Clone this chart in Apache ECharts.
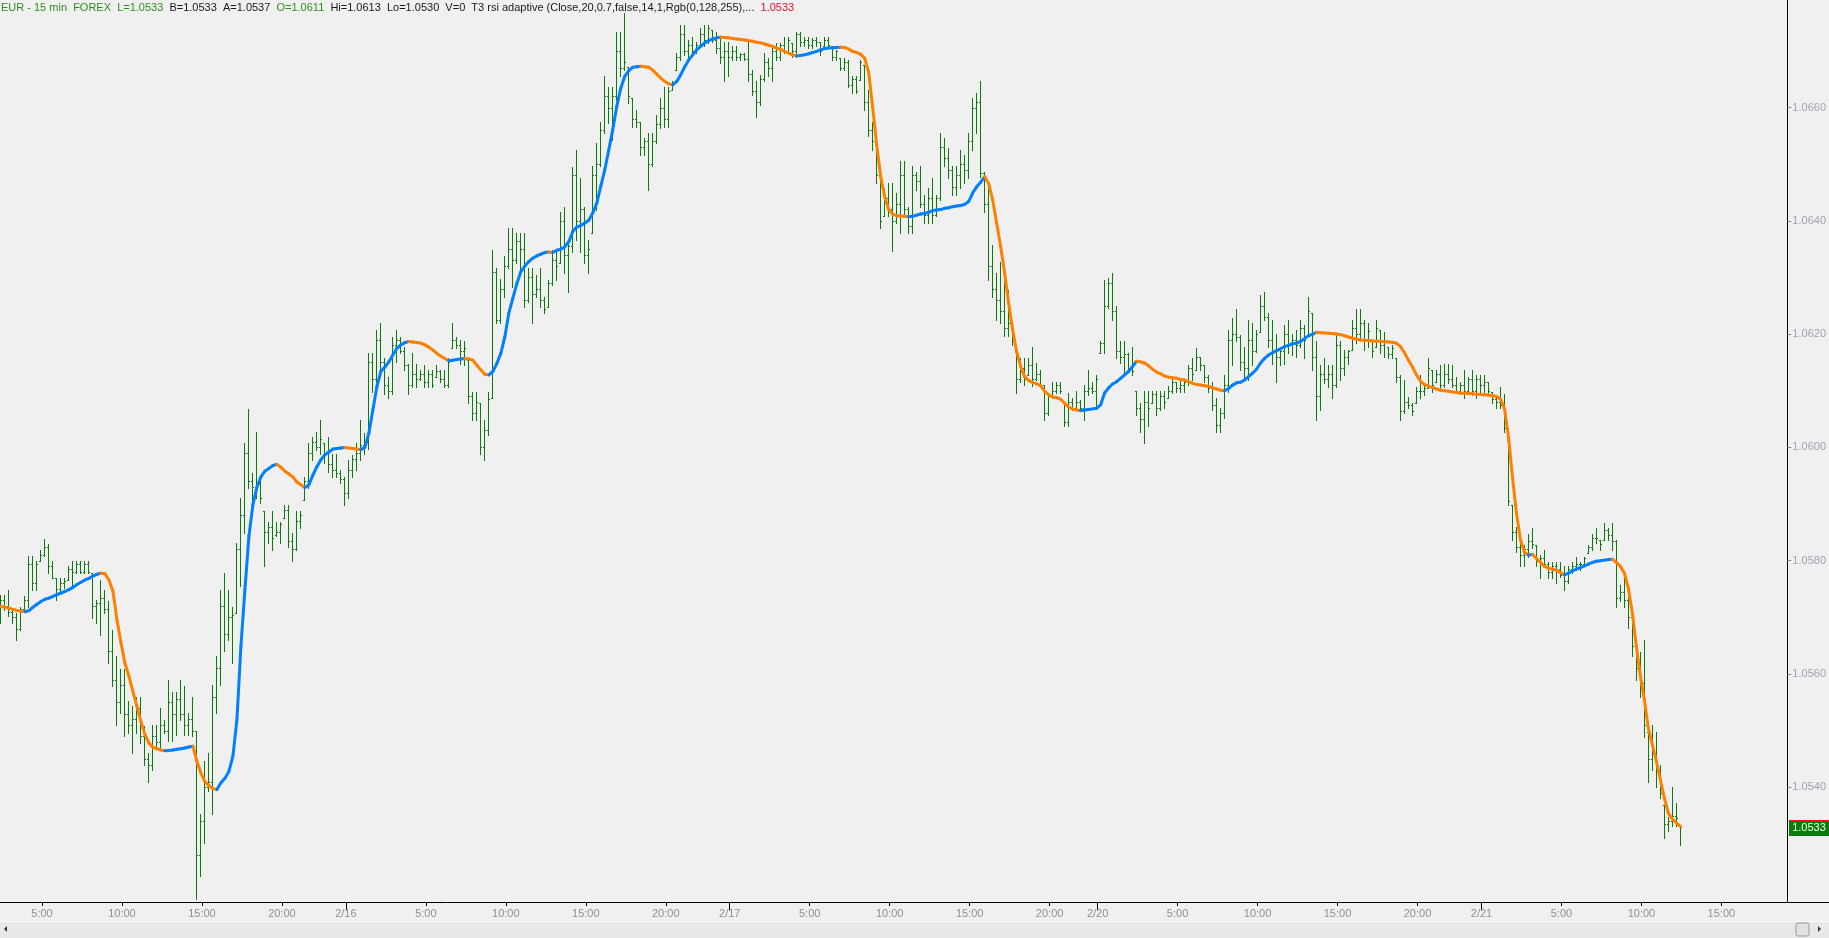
<!DOCTYPE html>
<html>
<head>
<meta charset="utf-8">
<script src="https://cdn.jsdelivr.net/npm/echarts@6/dist/echarts.min.js"></script>
<style>
html,body{margin:0;padding:0;background:#f0f0f0;overflow:hidden;}
#c{width:1829px;height:938px;}
</style>
</head>
<body>
<div id="c"></div>
<script>
// ---- time axis: trading sessions of 15-minute bars (start, number of slots) ----
const sessions = [['2017-02-15 02:30', 254], ['2017-02-19 18:00', 16], ['2017-02-19 23:00', 177]];

// ---- y-axis tick labels ----
const yTicks = [1.054, 1.056, 1.058, 1.060, 1.062, 1.064, 1.066];

// ---- header text ----
const headerParts = [
  ['g', 'EUR - 15 min  FOREX  L=1.0533  '],
  ['k', 'B=1.0533  A=1.0537  '],
  ['g', 'O=1.0611  '],
  ['k', 'Hi=1.0613  Lo=1.0530  V=0  T3 rsi adaptive (Close,20,0.7,false,14,1,Rgb(0,128,255),...  '],
  ['r', '1.0533']
];

// ---- OHLC values (EUR, 15 min) ----
const open = [
1.057,1.0573,1.0572,1.0571,1.057,1.0568,1.05715,1.0573,1.05795,1.0576,
1.058,1.0581,1.05825,1.0579,1.0577,1.0575,1.0576,1.05766,1.05785,1.0578,
1.05795,1.0578,1.05795,1.05778,1.0572,1.05725,1.05735,1.05715,1.0564,1.0559,
1.0555,1.0558,1.0553,1.0551,1.0552,1.0554,1.0549,1.0545,1.0544,1.0549,
1.0548,1.0551,1.055,1.0555,1.0553,1.05555,1.0553,1.0551,1.0552,1.055,
1.0528,1.0534,1.054,1.0541,1.0556,1.0561,1.0572,1.0567,1.057,1.05708,
1.0582,1.0588,1.0599,1.0594,1.0593,1.05935,1.05887,1.0585,1.0586,1.05845,
1.0585,1.05875,1.0589,1.05835,1.0582,1.0587,1.05907,1.0594,1.0599,1.0601,
1.06,1.06007,1.0599,1.0597,1.0596,1.05955,1.05945,1.0592,1.0596,1.0598,
1.0599,1.06005,1.0601,1.0615,1.0612,1.0619,1.0615,1.0611,1.061,1.0618,
1.0619,1.0617,1.06145,1.0611,1.0613,1.0612,1.0613,1.06115,1.0613,1.06125,
1.06135,1.0612,1.0611,1.06175,1.0619,1.0618,1.0617,1.06154,1.0609,1.0606,
1.06078,1.06,1.0603,1.06087,1.0631,1.06225,1.0628,1.0632,1.0635,1.0633,
1.06365,1.0635,1.0626,1.063,1.0627,1.0628,1.0626,1.06248,1.0629,1.0633,
1.06325,1.064,1.0634,1.06355,1.0648,1.064,1.0642,1.0634,1.06378,1.0648,
1.065,1.0656,1.0662,1.066,1.0662,1.067,1.0667,1.06672,1.06616,1.0658,
1.06575,1.0653,1.0654,1.065,1.0654,1.0657,1.066,1.0658,1.06631,1.06666,
1.0669,1.0673,1.067,1.0671,1.067,1.0671,1.0673,1.0672,1.06737,1.0672,
1.06705,1.0669,1.067,1.0669,1.067,1.0669,1.06695,1.06685,1.0666,1.0663,
1.0661,1.0665,1.0668,1.0667,1.067,1.0669,1.0671,1.067,1.06714,1.067,
1.0673,1.06715,1.0672,1.0671,1.0672,1.06715,1.06708,1.0672,1.06708,1.0669,
1.06687,1.0667,1.0668,1.0664,1.0665,1.06649,1.06675,1.0661,1.0656,1.0654,
1.0648,1.06408,1.0644,1.0642,1.064,1.0643,1.0648,1.0642,1.0639,1.0648,
1.0647,1.0643,1.0641,1.0644,1.0641,1.0644,1.0653,1.0651,1.0649,1.0646,
1.0648,1.065,1.0649,1.0654,1.066,1.0661,1.06485,1.0643,1.0632,1.0628,
1.0626,1.0624,1.0621,1.06219,1.06169,1.0612,1.0614,1.06128,1.06145,1.0612,
1.0613,1.0611,1.0606,1.0609,1.061,1.0611,1.06078,1.06045,1.0608,1.0607,
1.0608,1.0607,1.061,1.06105,1.061,1.06166,1.06185,1.0625,1.0629,1.0624,
1.0617,1.0616,1.06165,1.0614,1.06099,1.0607,1.0605,1.0608,1.06078,1.06095,
1.0607,1.0609,1.06087,1.061,1.06115,1.06105,1.0611,1.06115,1.0614,1.06137,
1.0616,1.06145,1.06125,1.06105,1.06075,1.0604,1.0606,1.0611,1.0619,1.062,
1.06195,1.0615,1.0614,1.0619,1.0617,1.06204,1.0625,1.0623,1.0619,1.0617,
1.0616,1.0617,1.062,1.0618,1.0619,1.0618,1.0621,1.06196,1.06237,1.0616,
1.0609,1.0613,1.0612,1.0613,1.0611,1.0618,1.0614,1.0616,1.06172,1.0621,
1.062,1.0622,1.0619,1.0619,1.06178,1.06207,1.0618,1.06178,1.06165,1.06157,
1.06125,1.06065,1.0608,1.06075,1.06078,1.061,1.061,1.06105,1.06137,1.06116,
1.0613,1.0611,1.0613,1.0612,1.0611,1.061,1.0611,1.061,1.0612,1.061,
1.0612,1.0611,1.06115,1.06098,1.06085,1.0608,1.06075,1.06013,1.05898,1.0585,
1.05825,1.0581,1.0582,1.05835,1.05828,1.058,1.05805,1.05795,1.0578,1.0579,
1.05785,1.05775,1.05765,1.05785,1.0579,1.05795,1.05795,1.05813,1.05825,1.0584,
1.05837,1.05837,1.05855,1.05845,1.05835,1.05735,1.05745,1.0573,1.057,1.0565,
1.0561,1.05585,1.05498,1.0545,1.0546,1.0543,1.05369,1.05335,1.0534,1.0535,
1.05334
];
const high = [
1.0574,1.0574,1.05749,1.05713,1.05708,1.05719,1.05737,1.05808,1.05808,1.05799,
1.05819,1.05838,1.0583,1.05799,1.05769,1.05769,1.05769,1.0579,1.05799,1.05799,
1.05799,1.05799,1.05799,1.05778,1.05731,1.05766,1.05749,1.05728,1.05678,1.05631,
1.05608,1.05608,1.05552,1.05543,1.0556,1.0556,1.05508,1.0546,1.0551,1.0551,
1.0554,1.05519,1.0559,1.05569,1.05569,1.0559,1.05578,1.05531,1.0556,1.055,
1.05352,1.05446,1.0546,1.05581,1.05631,1.05749,1.05778,1.05749,1.05719,1.05831,
1.0591,1.06008,1.06068,1.05955,1.06027,1.05949,1.05887,1.05869,1.05887,1.05869,
1.05869,1.05899,1.05899,1.05849,1.05887,1.05887,1.05948,1.06007,1.06019,1.06028,
1.06048,1.06007,1.06019,1.05989,1.05989,1.0596,1.05948,1.05978,1.05987,1.06007,
1.06048,1.06025,1.06166,1.06166,1.06207,1.06219,1.06157,1.06125,1.06195,1.06207,
1.06195,1.06178,1.06148,1.06166,1.06148,1.06137,1.06145,1.06137,1.06137,1.06145,
1.06137,1.06137,1.06157,1.06219,1.06195,1.06189,1.06187,1.06154,1.06098,1.06098,
1.06078,1.06048,1.06098,1.06348,1.06316,1.06298,1.06337,1.06387,1.06387,1.06378,
1.06378,1.06378,1.06316,1.06316,1.06304,1.06316,1.06266,1.06295,1.06348,1.06345,
1.06416,1.06425,1.06366,1.06495,1.06525,1.06475,1.06425,1.06366,1.06496,1.06537,
1.06575,1.06655,1.06637,1.06637,1.06734,1.06734,1.06766,1.06672,1.06616,1.06596,
1.06575,1.06546,1.06555,1.06555,1.06587,1.06616,1.06637,1.06637,1.06646,1.06696,
1.06746,1.06746,1.06719,1.06725,1.06716,1.0674,1.06746,1.06746,1.06737,1.06734,
1.06725,1.06716,1.06716,1.06708,1.06708,1.06696,1.06696,1.06716,1.06666,1.06646,
1.06658,1.06696,1.06687,1.06708,1.06714,1.06714,1.06725,1.06725,1.06714,1.06734,
1.06734,1.06725,1.06725,1.06722,1.06725,1.06716,1.06725,1.06725,1.06708,1.06702,
1.06687,1.06687,1.06684,1.06655,1.06655,1.06684,1.06675,1.06631,1.06575,1.06546,
1.06487,1.06458,1.06466,1.06466,1.06449,1.06505,1.06505,1.06425,1.06496,1.06487,
1.06496,1.06446,1.06458,1.06475,1.06446,1.06555,1.06546,1.06528,1.06496,1.06496,
1.06525,1.06516,1.06555,1.06616,1.06625,1.06646,1.06487,1.06466,1.06358,1.06308,
1.06328,1.06293,1.06278,1.06219,1.06169,1.06158,1.06158,1.06158,1.06178,1.06149,
1.06137,1.0611,1.06096,1.06116,1.06116,1.06116,1.06078,1.06096,1.06087,1.06099,
1.06084,1.0611,1.06137,1.06116,1.06128,1.06187,1.06296,1.06299,1.06308,1.06249,
1.06187,1.06187,1.06166,1.06178,1.06099,1.06078,1.06099,1.06099,1.06099,1.06099,
1.06099,1.06099,1.06108,1.06125,1.06116,1.06119,1.06119,1.06146,1.06157,1.06175,
1.0616,1.06146,1.06128,1.06116,1.06087,1.06069,1.06128,1.06207,1.06228,1.06245,
1.06198,1.06178,1.06225,1.06219,1.06207,1.06269,1.06275,1.06237,1.06225,1.06201,
1.06175,1.06216,1.06225,1.06201,1.06207,1.06225,1.06216,1.06266,1.06237,1.06187,
1.06146,1.06157,1.06146,1.06146,1.06198,1.06187,1.06172,1.06172,1.06225,1.06245,
1.06245,1.06225,1.06219,1.0619,1.06225,1.06207,1.06204,1.06178,1.06181,1.06157,
1.06128,1.06119,1.06089,1.06078,1.06107,1.06128,1.0611,1.06157,1.06137,1.06137,
1.06146,1.06148,1.06148,1.06146,1.06125,1.06116,1.06137,1.06125,1.06137,1.06128,
1.06128,1.06128,1.06116,1.06098,1.0609,1.06107,1.06095,1.06013,1.05898,1.0586,
1.05831,1.05828,1.05848,1.05857,1.05828,1.0581,1.05819,1.05798,1.05798,1.05798,
1.05798,1.0579,1.0579,1.05798,1.05807,1.05798,1.05807,1.05828,1.05848,1.05857,
1.05837,1.05866,1.05857,1.05866,1.05837,1.05757,1.05778,1.05757,1.05719,1.0566,
1.05639,1.0566,1.05498,1.0551,1.05498,1.05439,1.05369,1.05348,1.05401,1.05372,
1.05334
];
const low = [
1.0569,1.05713,1.05702,1.0569,1.0566,1.05678,1.05713,1.05719,1.05749,1.05749,
1.05799,1.05808,1.05778,1.05769,1.05731,1.05743,1.05752,1.05766,1.05755,1.05778,
1.05778,1.05778,1.05778,1.05699,1.0569,1.05669,1.05708,1.05619,1.05578,1.0551,
1.05531,1.0549,1.05496,1.0546,1.05496,1.05478,1.0544,1.0541,1.05431,1.05472,
1.05472,1.05496,1.05481,1.05481,1.05493,1.05519,1.05493,1.05493,1.0549,1.05202,
1.05243,1.05302,1.05393,1.05352,1.05531,1.05581,1.0564,1.0566,1.05619,1.05708,
1.05755,1.05849,1.05928,1.05908,1.0591,1.05902,1.0579,1.05831,1.05819,1.05843,
1.05831,1.05875,1.05825,1.05799,1.05819,1.05857,1.05907,1.05928,1.05978,1.05995,
1.05989,1.05972,1.05957,1.05948,1.05948,1.05937,1.05898,1.0591,1.05948,1.0596,
1.05978,1.05989,1.05998,1.06098,1.06116,1.06131,1.06095,1.06087,1.06095,1.06151,
1.06166,1.06137,1.06095,1.06107,1.06107,1.06119,1.06107,1.06107,1.06107,1.06125,
1.06116,1.06107,1.06107,1.06175,1.06175,1.06148,1.06145,1.06078,1.06048,1.06048,
1.05989,1.05978,1.06022,1.06087,1.06219,1.06219,1.06266,1.06316,1.06284,1.06325,
1.06313,1.06248,1.06257,1.06219,1.06266,1.06248,1.06237,1.06248,1.06287,1.06295,
1.06325,1.06307,1.06275,1.06345,1.06366,1.06345,1.06325,1.06307,1.06378,1.06419,
1.06496,1.06555,1.06572,1.06543,1.06614,1.06655,1.06666,1.06608,1.06566,1.06566,
1.06516,1.06516,1.06455,1.06496,1.06537,1.06564,1.06566,1.06566,1.06631,1.06666,
1.06684,1.06693,1.0669,1.06696,1.06696,1.06708,1.06708,1.06714,1.06716,1.06696,
1.06678,1.06646,1.06655,1.06684,1.06684,1.06684,1.06684,1.06646,1.06622,1.06584,
1.06605,1.06646,1.06655,1.06646,1.06684,1.06684,1.06696,1.06696,1.0669,1.0669,
1.06708,1.06708,1.06705,1.06705,1.06708,1.06693,1.06708,1.06708,1.06684,1.06684,
1.06666,1.06666,1.06637,1.06625,1.06625,1.06649,1.06596,1.06549,1.06525,1.06466,
1.06387,1.06408,1.06408,1.06346,1.06396,1.06378,1.06408,1.06378,1.06378,1.06455,
1.06425,1.06396,1.06396,1.06396,1.06408,1.06437,1.06496,1.06475,1.06446,1.06446,
1.06458,1.06466,1.06475,1.06525,1.06555,1.06478,1.06416,1.06296,1.06266,1.06225,
1.06219,1.06196,1.06196,1.06181,1.06096,1.06116,1.0611,1.06128,1.06108,1.06119,
1.06108,1.06049,1.06058,1.06087,1.06096,1.06096,1.06037,1.06037,1.06066,1.06066,
1.06066,1.06049,1.06093,1.06096,1.06069,1.06166,1.06166,1.06246,1.06225,1.06158,
1.06149,1.06128,1.06137,1.06128,1.06058,1.06028,1.06008,1.06037,1.06078,1.06058,
1.06066,1.06069,1.06087,1.06096,1.06098,1.06098,1.06098,1.0611,1.06119,1.06137,
1.06137,1.06116,1.06098,1.06066,1.06028,1.06028,1.06052,1.06098,1.06146,1.06187,
1.06137,1.06119,1.06119,1.06146,1.06169,1.06204,1.06225,1.06178,1.06148,1.06116,
1.06146,1.06148,1.06166,1.06163,1.0616,1.06178,1.06157,1.06196,1.06137,1.06048,
1.06066,1.06113,1.06107,1.06087,1.06107,1.06119,1.06128,1.06148,1.06172,1.06184,
1.06193,1.06172,1.06178,1.0616,1.06178,1.06166,1.0616,1.06157,1.06157,1.06116,
1.06048,1.0606,1.06069,1.06057,1.06078,1.06087,1.06093,1.06104,1.06098,1.06116,
1.06101,1.06107,1.06113,1.06107,1.06096,1.06095,1.06087,1.06095,1.06093,1.06087,
1.06098,1.06095,1.06093,1.06078,1.06069,1.06069,1.06028,1.05898,1.05837,1.05816,
1.0579,1.0579,1.05807,1.05822,1.0579,1.05769,1.0579,1.05769,1.05769,1.0576,
1.05772,1.05748,1.0576,1.05778,1.05784,1.05784,1.05795,1.05813,1.05819,1.05831,
1.05819,1.05837,1.05837,1.05819,1.05719,1.05728,1.05719,1.05681,1.05631,1.0559,
1.0556,1.05489,1.0541,1.05431,1.05401,1.05381,1.0531,1.05322,1.05331,1.05331,
1.05298
];
const close = [
1.0573,1.0572,1.0571,1.057,1.0568,1.05715,1.0573,1.05795,1.0576,1.05795,
1.0581,1.05825,1.0579,1.0577,1.0575,1.0576,1.05765,1.05785,1.0578,1.05795,
1.0578,1.05795,1.0578,1.0572,1.05725,1.05735,1.05715,1.0564,1.0559,1.0555,
1.0558,1.0553,1.0551,1.0552,1.0554,1.0549,1.0545,1.0544,1.0549,1.0548,
1.0551,1.055,1.0555,1.0553,1.05555,1.0553,1.0551,1.0552,1.055,1.0528,
1.0534,1.054,1.0541,1.0556,1.0561,1.0572,1.0567,1.057,1.05705,1.0582,
1.0588,1.0599,1.0594,1.0593,1.05935,1.0591,1.0585,1.0586,1.0584,1.0585,
1.05865,1.0589,1.05835,1.0582,1.0587,1.0588,1.0594,1.0599,1.0601,1.06,
1.06015,1.0599,1.0597,1.0596,1.05955,1.05945,1.0592,1.0596,1.0598,1.0599,
1.06005,1.0601,1.0615,1.0612,1.0619,1.0615,1.0611,1.061,1.0618,1.0619,
1.0617,1.06145,1.0611,1.0613,1.0612,1.0613,1.06115,1.0613,1.0611,1.06135,
1.0612,1.0611,1.0615,1.0619,1.0618,1.0617,1.06175,1.0609,1.0606,1.0608,
1.06,1.0603,1.06085,1.0631,1.06225,1.0628,1.0632,1.0635,1.0633,1.06365,
1.0635,1.0626,1.063,1.0627,1.0628,1.0626,1.06245,1.0629,1.0633,1.0632,
1.064,1.0634,1.06355,1.0648,1.064,1.0642,1.0634,1.0635,1.0648,1.065,
1.0656,1.0662,1.066,1.0662,1.067,1.0667,1.0668,1.0662,1.0658,1.06575,
1.0653,1.0654,1.065,1.0654,1.0657,1.066,1.0658,1.0663,1.0664,1.0669,
1.0673,1.067,1.0671,1.067,1.0671,1.0673,1.0672,1.0674,1.0672,1.06705,
1.0669,1.067,1.0669,1.067,1.0669,1.06695,1.06685,1.0666,1.0663,1.0661,
1.0665,1.0668,1.0667,1.067,1.0669,1.0671,1.067,1.0672,1.067,1.0673,
1.06715,1.0672,1.0671,1.0672,1.06715,1.067,1.0672,1.0671,1.0669,1.067,
1.0667,1.0668,1.0664,1.0665,1.0663,1.0668,1.0661,1.0656,1.0654,1.0648,
1.064,1.0644,1.0642,1.064,1.0643,1.0648,1.0642,1.0639,1.0648,1.0647,
1.0643,1.0641,1.0644,1.0641,1.0644,1.0653,1.0651,1.0649,1.0646,1.0648,
1.065,1.0649,1.0654,1.066,1.0661,1.06485,1.0643,1.0632,1.0628,1.0626,
1.0624,1.0621,1.0622,1.0619,1.0612,1.0614,1.0612,1.06145,1.0612,1.0613,
1.0611,1.0606,1.0609,1.061,1.0611,1.061,1.06045,1.0608,1.0607,1.0608,
1.0607,1.061,1.06105,1.061,1.0612,1.06185,1.0625,1.0629,1.0624,1.0617,
1.0616,1.06165,1.0614,1.06135,1.0607,1.0605,1.0608,1.0607,1.06095,1.0607,
1.0609,1.0608,1.061,1.06115,1.06105,1.0611,1.06115,1.0614,1.0613,1.0616,
1.06145,1.06125,1.06105,1.06075,1.0604,1.0606,1.0611,1.0619,1.062,1.06195,
1.0615,1.0614,1.0619,1.0617,1.062,1.0625,1.0623,1.0619,1.0617,1.0616,
1.0617,1.062,1.0618,1.0619,1.0618,1.0621,1.0619,1.0624,1.0616,1.0609,
1.0613,1.0612,1.0613,1.0611,1.0618,1.0614,1.0616,1.0617,1.0621,1.062,
1.0622,1.0619,1.06205,1.0617,1.0621,1.0618,1.0619,1.06165,1.06175,1.06125,
1.06065,1.0608,1.06075,1.06065,1.061,1.061,1.06105,1.0614,1.0611,1.0613,
1.0611,1.0613,1.0612,1.0611,1.061,1.0611,1.061,1.0612,1.061,1.0612,
1.0611,1.06115,1.061,1.06085,1.0608,1.06075,1.06035,1.05905,1.0585,1.05825,
1.0581,1.0582,1.05835,1.0583,1.058,1.05805,1.05795,1.0578,1.0579,1.05785,
1.05775,1.05765,1.05785,1.0579,1.05795,1.05795,1.05805,1.05825,1.0584,1.0584,
1.0583,1.05855,1.05845,1.05835,1.05735,1.05745,1.0573,1.057,1.0565,1.0561,
1.05585,1.0551,1.0545,1.0546,1.0543,1.0539,1.05335,1.0534,1.0535,1.05345,
1.0533
];
// ---- T3 rsi adaptive values ----
const t3 = [
1.05719,1.05718,1.05716,1.05714,1.05712,1.05711,1.0571,1.05712,1.05718,1.05723,
1.05728,1.05732,1.05734,1.05737,1.0574,1.05743,1.05746,1.05749,1.05753,1.05758,
1.05762,1.05766,1.05769,1.05773,1.05776,1.05778,1.05777,1.05766,1.05746,1.05696,
1.05655,1.05619,1.05596,1.05569,1.05543,1.05516,1.05493,1.05478,1.05471,1.05468,
1.05466,1.054645,1.05465,1.05466,1.05467,1.05468,1.054695,1.05471,1.054725,1.05446,
1.05425,1.0541,1.05403,1.05398,1.05396,1.05408,1.05416,1.05428,1.05455,1.05519,
1.05649,1.05749,1.05843,1.05899,1.0593,1.05948,1.05958,1.05963,1.05968,1.0597,
1.05965,1.05958,1.05953,1.05948,1.05939,1.05934,1.05929,1.05934,1.05951,1.05966,
1.05978,1.05987,1.05992,1.05997,1.05998,1.05999,1.06,1.05999,1.05998,1.05997,
1.05996,1.06,1.06025,1.06066,1.06107,1.06134,1.06142,1.06151,1.06163,1.06175,
1.06181,1.06185,1.06187,1.06186,1.06185,1.06184,1.06181,1.06177,1.06172,1.06166,
1.06161,1.06157,1.06153,1.06154,1.06155,1.06156,1.06157,1.06156,1.06154,1.06145,
1.06137,1.06129,1.06128,1.06134,1.06148,1.06166,1.06195,1.06237,1.06263,1.06289,
1.0631,1.0632,1.06328,1.06334,1.06338,1.06341,1.06344,1.06345,1.06344,1.06348,
1.0635,1.06354,1.06363,1.06381,1.06389,1.06392,1.06396,1.06401,1.06414,1.06431,
1.06461,1.0649,1.06525,1.06561,1.06602,1.06634,1.06655,1.06665,1.06671,1.06672,
1.06673,1.06672,1.06671,1.06666,1.06659,1.06652,1.06646,1.06642,1.0664,1.06646,
1.06658,1.06672,1.06684,1.06693,1.06702,1.06708,1.06714,1.06718,1.06721,1.06723,
1.06724,1.067235,1.06723,1.06722,1.06721,1.0672,1.06719,1.06718,1.06717,1.06715,
1.06714,1.06712,1.0671,1.06708,1.06705,1.06702,1.06699,1.06696,1.06693,1.06691,
1.06692,1.06693,1.06695,1.06697,1.06699,1.06702,1.06704,1.06705,1.067055,1.06706,
1.067065,1.06706,1.06703,1.06699,1.06697,1.06694,1.06687,1.06662,1.066,1.06534,
1.06478,1.06443,1.0642,1.06412,1.06409,1.064085,1.06408,1.06407,1.06408,1.0641,
1.06412,1.06413,1.06415,1.06418,1.06419,1.0642,1.06422,1.06423,1.06425,1.06426,
1.06427,1.06429,1.06434,1.06449,1.0646,1.06468,1.06478,1.06466,1.06437,1.06396,
1.06355,1.06308,1.06255,1.06208,1.06169,1.06143,1.06125,1.06118,1.06115,1.06112,
1.06109,1.06099,1.06093,1.06089,1.06088,1.06085,1.06078,1.06071,1.06068,1.06066,
1.06065,1.06066,1.06067,1.06068,1.06069,1.06075,1.06096,1.06105,1.06112,1.06116,
1.06122,1.06128,1.06134,1.06143,1.06152,1.06151,1.06149,1.06144,1.06138,1.06133,
1.0613,1.06126,1.06124,1.06123,1.06122,1.0612,1.06119,1.06116,1.06113,1.06111,
1.0611,1.06109,1.06108,1.06105,1.06103,1.06101,1.061,1.06104,1.0611,1.06114,
1.06115,1.06119,1.06125,1.06131,1.06138,1.06149,1.06157,1.06163,1.06167,1.06171,
1.06174,1.06178,1.0618,1.06183,1.06184,1.06187,1.06192,1.06197,1.062,1.06203,
1.062025,1.06202,1.062015,1.06201,1.062,1.06199,1.06197,1.06195,1.06193,1.06191,
1.061895,1.06189,1.061885,1.06188,1.061875,1.06187,1.061865,1.06186,1.061855,1.06184,
1.06178,1.06167,1.06154,1.06142,1.06128,1.06117,1.06111,1.06108,1.06106,1.06103,
1.06101,1.061,1.06099,1.06098,1.06097,1.06096,1.060955,1.06095,1.060945,1.06094,
1.060935,1.06093,1.060925,1.06091,1.0609,1.06085,1.06069,1.06019,1.05948,1.05884,
1.05837,1.05815,1.0581,1.05811,1.05804,1.05797,1.0579,1.05787,1.05785,1.05783,
1.05779,1.05775,1.05778,1.05782,1.05785,1.05788,1.05791,1.05794,1.05797,1.05799,
1.058,1.05801,1.05802,1.058025,1.05797,1.0579,1.05778,1.05751,1.05707,1.05648,
1.05596,1.05554,1.05504,1.05475,1.05446,1.05413,1.05381,1.05354,1.05344,1.05337,
1.05331
];

// ---------------- styles / layout ----------------
const BAR_COLOR = '#0d7a0d';
const UP_COLOR = '#0080ff';
const DOWN_COLOR = '#ff8000';
const FONT = '"Liberation Sans", Arial, sans-serif';
const Y_MIN = 1.0519754, Y_MAX = 1.0678977;

// build category axis from sessions
const times = [];
sessions.forEach(([s, n]) => {
  const [d, t] = s.split(' ');
  const [Y, M, D] = d.split('-').map(Number);
  const [h, mi] = t.split(':').map(Number);
  const t0 = Date.UTC(Y, M - 1, D, h, mi);
  for (let k = 0; k < n; k++) times.push(t0 + k * 900000);
});
const categories = times.map(t => {
  const d = new Date(t);
  return (d.getUTCMonth() + 1) + '/' + d.getUTCDate() + ' ' + d.getUTCHours() + ':' + String(d.getUTCMinutes()).padStart(2, '0');
});
function tickLabel(i) {
  const d = new Date(times[i]);
  const h = d.getUTCHours(), m = d.getUTCMinutes();
  if (m !== 0 || h % 5 !== 0) return '';
  return h === 0 ? (d.getUTCMonth() + 1) + '/' + d.getUTCDate() : h + ':00';
}
function isDateTick(i) {
  const d = new Date(times[i]);
  return d.getUTCHours() === 0 && d.getUTCMinutes() === 0;
}

const barData = open.map((o, i) => [i, o, high[i], low[i], close[i]]);
const segData = [];
let dir = 1;
for (let i = 1; i < t3.length; i++) {
  if (t3[i] > t3[i - 1]) dir = 1; else if (t3[i] < t3[i - 1]) dir = -1;
  segData.push([i, t3[i - 1], t3[i], dir]);
}

const chart = echarts.init(document.getElementById('c'), null, {renderer: 'canvas'});

const headerText = headerParts.map(p => '{' + p[0] + '|' + p[1] + '}').join('');

chart.setOption({
  animation: false,
  backgroundColor: '#f0f0f0',
  grid: {left: 0, right: 41, top: 0, bottom: 36, containLabel: false},
  xAxis: [{
    type: 'category', data: categories, boundaryGap: true, position: 'bottom',
    axisLine: {show: true, onZero: false, lineStyle: {color: '#000', width: 1}},
    axisTick: {show: true, alignWithLabel: true, length: 4, interval: (i) => tickLabel(i) !== '', lineStyle: {color: '#000'}},
    axisLabel: {show: true, interval: (i) => tickLabel(i) !== '', formatter: (v, i) => tickLabel(i),
      color: '#8f8f8f', fontSize: 11, fontFamily: FONT, margin: 6},
    splitLine: {show: false}
  }, {
    type: 'category', data: categories, boundaryGap: true, position: 'top', offset: -902,
    axisLine: {show: false},
    axisTick: {show: true, inside: true, alignWithLabel: true, length: 8, interval: (i) => isDateTick(i), lineStyle: {color: '#000'}},
    axisLabel: {show: false},
    splitLine: {show: false}
  }],
  yAxis: {
    type: 'value', position: 'right', min: Y_MIN, max: Y_MAX, scale: true,
    splitLine: {show: false},
    axisLine: {show: true, onZero: false, lineStyle: {color: '#000', width: 1}},
    axisTick: {show: true, length: 4, customValues: yTicks, lineStyle: {color: '#8a8a8a'}},
    axisLabel: {show: true, customValues: yTicks, formatter: v => v.toFixed(4), color: '#a4a0b4',
      fontSize: 11, fontFamily: FONT, margin: 5}
  },
  series: [{
    type: 'custom', name: 'EUR', xAxisIndex: 0, yAxisIndex: 0, data: barData,
    encode: {x: 0, y: [1, 2, 3, 4]}, clip: true, silent: true,
    renderItem: (params, api) => {
      const i = api.value(0);
      const ph = api.coord([i, api.value(2)]);
      const pl = api.coord([i, api.value(3)]);
      const po = api.coord([i, api.value(1)]);
      const pc = api.coord([i, api.value(4)]);
      const x = Math.floor(ph[0]) - 1;
      const yt = Math.round(ph[1]), yb = Math.round(pl[1]);
      return {type: 'group', children: [
        {type: 'rect', shape: {x: x, y: yt, width: 1, height: Math.max(1, yb - yt + 1)}, style: {fill: BAR_COLOR}},
        {type: 'rect', shape: {x: x - 1, y: Math.round(po[1]), width: 1, height: 1}, style: {fill: BAR_COLOR}},
        {type: 'rect', shape: {x: x + 1, y: Math.round(pc[1]), width: 1, height: 1}, style: {fill: BAR_COLOR}}
      ]};
    },
    z: 2
  }, {
    type: 'custom', name: 'T3 rsi adaptive', xAxisIndex: 0, yAxisIndex: 0, data: segData,
    encode: {x: 0, y: [1, 2]}, clip: true, silent: true,
    renderItem: (params, api) => {
      const i = api.value(0);
      const p0 = api.coord([i - 1, api.value(1)]);
      const p1 = api.coord([i, api.value(2)]);
      return {type: 'line', shape: {x1: p0[0] - 1, y1: p0[1], x2: p1[0] - 1, y2: p1[1]},
        style: {stroke: api.value(3) > 0 ? UP_COLOR : DOWN_COLOR, lineWidth: 3, lineCap: 'round'}};
    },
    z: 3
  }]
});

// last price marker, scrollbar & header
const lastClose = close[close.length - 1];
const py = chart.convertToPixel({yAxisIndex: 0}, lastClose);
chart.setOption({
  graphic: [
    {type: 'text', left: 1, top: 2, z: 10, style: {text: headerText, font: '11px ' + FONT,
      rich: {g: {fill: '#2e8f1e', font: '11px ' + FONT}, k: {fill: '#1a1a1a', font: '11px ' + FONT}, r: {fill: '#e8112d', font: '11px ' + FONT}}}},
    {type: 'rect', z: 10, shape: {x: 1789, y: Math.round(py) - 7, width: 40, height: 16}, style: {fill: '#0a7d0a'}},
    {type: 'rect', z: 11, shape: {x: 1789, y: Math.round(py) - 7, width: 40, height: 1}, style: {fill: '#ff1010'}},
    {type: 'text', z: 12, x: 1809, y: Math.round(py) + 1, style: {text: lastClose.toFixed(4), fill: '#f0fff0',
      font: '11px ' + FONT, align: 'center', verticalAlign: 'middle'}},
    {type: 'line', z: 5, shape: {x1: 1788, y1: 902.5, x2: 1829, y2: 902.5}, style: {stroke: '#000', lineWidth: 1}},
    {type: 'rect', z: 5, shape: {x: 0, y: 922, width: 1829, height: 16}, style: {fill: '#e8e8e8'}},
    {type: 'line', z: 6, shape: {x1: 0, y1: 921.5, x2: 1829, y2: 921.5}, style: {stroke: '#fafafa', lineWidth: 1}},
    {type: 'polygon', z: 6, shape: {points: [[7, 926], [4, 929], [7, 932]]}, style: {fill: '#333'}},
    {type: 'rect', z: 6, shape: {x: 1796, y: 923, width: 13, height: 13, r: 2}, style: {fill: '#e2e2e2', stroke: '#9a9a9a', lineWidth: 1}},
    {type: 'polygon', z: 6, shape: {points: [[1818, 926], [1821, 929], [1818, 932]]}, style: {fill: '#333'}}
  ]
});
</script>
</body>
</html>
